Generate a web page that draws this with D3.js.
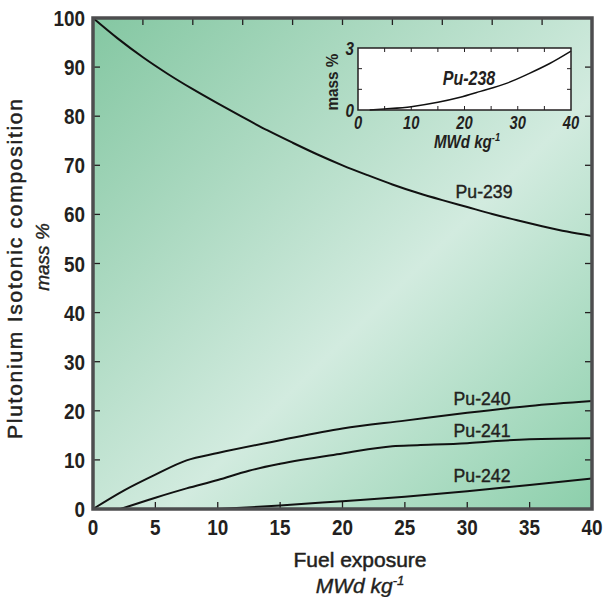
<!DOCTYPE html>
<html>
<head>
<meta charset="utf-8">
<script src="https://cdn.jsdelivr.net/npm/d3@7"></script>
<style>
  body { margin: 0; background: #fff; }
  text { font-family: "Liberation Sans", Arial, sans-serif; fill: #231f20; }
</style>
</head>
<body>
<svg id="chart" width="607" height="597"></svg>
<script>
// ---- data ----
var xTicks = [0, 5, 10, 15, 20, 25, 30, 35, 40];
var yTicks = [0, 10, 20, 30, 40, 50, 60, 70, 80, 90, 100];

var pu239 = [[0,100],[2,95.8],[4,92],[6,88.6],[8,85.5],[10,82.6],[12,79.8],[14,77.1],[16,74.6],[18,72.2],
             [20,70],[22,68],[24,66.1],[26,64.4],[28,62.9],[30,61.5],[32,60.1],[34,58.8],[36,57.6],[38,56.5],[40,55.6]];
var pu240 = [[0,0],[2.5,3.8],[5,7],[7.5,9.9],[10,11.4],[15,14],[20,16.4],[25,18],[30,19.6],[35,21],[40,22]];
var pu241 = [[2.2,0],[5,2.3],[7.5,4.2],[10,5.9],[12.5,7.8],[15,9.2],[20,11.3],[24,12.8],[26,13],[30,13.4],[32,13.8],[35,14.2],[40,14.4]];
var pu242 = [[10,0],[15,0.7],[20,1.6],[25,2.5],[30,3.6],[35,4.9],[40,6.2]];
var pu238 = [[2.2,0],[5,0.05],[10,0.16],[15,0.37],[19,0.6],[23,0.9],[28,1.3],[32,1.75],[36,2.25],[40,2.85]];

var insetXTicks = [0, 10, 20, 30, 40];
var insetYTicks = [0, 3];

var labels = [
    { name: "Pu-239", x: 484, y: 198 },
    { name: "Pu-240", x: 482, y: 405 },
    { name: "Pu-241", x: 482, y: 437 },
    { name: "Pu-242", x: 482, y: 482 }
];

var svg = d3.select("#chart");

var x = d3.scaleLinear().domain([0, 40]).range([93, 592]);
var y = d3.scaleLinear().domain([0, 100]).range([509, 18]);

// text helper: condensed look by squeezing horizontally
function txt(parent, px, py, str, o) {
    o = o || {};
    var t = parent.append("text")
        .attr("transform", "translate(" + px + "," + py + ")" + (o.rot ? " rotate(" + o.rot + ")" : "") +
            " scale(" + (o.sx || 1) + ",1)")
        .attr("text-anchor", o.anchor || "middle")
        .style("font-size", (o.size || 20) + "px")
        .style("font-weight", o.bold ? "bold" : "normal")
        .style("font-style", o.italic ? "italic" : "normal");
    if (o.stroke) t.style("stroke", "#231f20").style("stroke-width", o.stroke);
    if (o.len) t.attr("textLength", o.len).attr("lengthAdjust", "spacing");
    if (o.sup) {
        t.append("tspan").text(str);
        t.append("tspan").attr("dy", -o.size * 0.38).style("font-size", (o.size * 0.62) + "px").text(o.sup);
    } else {
        t.text(str);
    }
    return t;
}

// background gradient
var defs = svg.append("defs");
var grad = defs.append("linearGradient").attr("id", "bg")
    .attr("x1", 0).attr("y1", 0).attr("x2", 1).attr("y2", 1);
grad.append("stop").attr("offset", "0%").attr("stop-color", "#84c7a2");
grad.append("stop").attr("offset", "58%").attr("stop-color", "#d2ebdf");
grad.append("stop").attr("offset", "100%").attr("stop-color", "#8ccfab");

svg.append("rect")
    .attr("x", x(0)).attr("y", y(100))
    .attr("width", x(40) - x(0)).attr("height", y(0) - y(100))
    .style("fill", "url(#bg)");

// inward ticks on all four sides
var tickLen = 7;
var g = svg.append("g").style("stroke", "#231f20").style("stroke-width", 1.3);
xTicks.slice(1, -1).forEach(function (t) {
    g.append("line").attr("x1", x(t)).attr("x2", x(t)).attr("y1", y(0)).attr("y2", y(0) - tickLen);
});
d3.range(4, 40, 4).forEach(function (t) {
    g.append("line").attr("x1", x(t)).attr("x2", x(t)).attr("y1", y(100)).attr("y2", y(100) + tickLen);
});
yTicks.slice(1, -1).forEach(function (t) {
    g.append("line").attr("x1", x(0)).attr("x2", x(0) + tickLen).attr("y1", y(t)).attr("y2", y(t));
    g.append("line").attr("x1", x(40)).attr("x2", x(40) - tickLen).attr("y1", y(t)).attr("y2", y(t));
});

// curves
var line = d3.line().x(function (d) { return x(d[0]); }).y(function (d) { return y(d[1]); })
    .curve(d3.curveMonotoneX);
[pu239, pu240, pu241, pu242].forEach(function (s) {
    svg.append("path").datum(s).attr("d", line)
        .style("fill", "none").style("stroke", "#111").style("stroke-width", 2);
});

labels.forEach(function (l) {
    txt(svg, l.x, l.y, l.name, { size: 19, sx: 0.93, stroke: 0.45 });
});

// frame
svg.append("rect")
    .attr("x", x(0)).attr("y", y(100))
    .attr("width", x(40) - x(0)).attr("height", y(0) - y(100))
    .style("fill", "none").style("stroke", "#4d4d4f").style("stroke-width", 3.5);

// tick labels
yTicks.forEach(function (d) {
    txt(svg, 85, y(d) + 8, d, { size: 22, bold: true, sx: 0.86, anchor: "end" });
});
xTicks.forEach(function (d) {
    txt(svg, x(d), 535, d, { size: 22, bold: true, sx: 0.86 });
});

// axis titles
txt(svg, 22, 269, "Plutonium Isotonic composition", { size: 21, rot: -90, len: 340, stroke: 0.5 });
txt(svg, 49, 257, "mass %", { size: 19, rot: -90, italic: true, stroke: 0.4 });
txt(svg, 360, 567, "Fuel exposure", { size: 21, stroke: 0.5 });
txt(svg, 360, 593, "MWd kg", { size: 21, italic: true, sup: "-1", stroke: 0.4 });

// ---- inset ----
var ix = d3.scaleLinear().domain([0, 40]).range([358, 571]);
var iy = d3.scaleLinear().domain([0, 3]).range([110, 48]);

svg.append("rect").attr("x", ix(0)).attr("y", iy(3))
    .attr("width", ix(40) - ix(0)).attr("height", iy(0) - iy(3))
    .style("fill", "#fff");

var gi = svg.append("g").style("stroke", "#231f20").style("stroke-width", 1);
d3.range(5, 40, 5).forEach(function (t) {
    gi.append("line").attr("x1", ix(t)).attr("x2", ix(t)).attr("y1", iy(0)).attr("y2", iy(0) - 4);
    gi.append("line").attr("x1", ix(t)).attr("x2", ix(t)).attr("y1", iy(3)).attr("y2", iy(3) + 4);
});
[1, 2].forEach(function (t) {
    gi.append("line").attr("x1", ix(0)).attr("x2", ix(0) + 4).attr("y1", iy(t)).attr("y2", iy(t));
    gi.append("line").attr("x1", ix(40)).attr("x2", ix(40) - 4).attr("y1", iy(t)).attr("y2", iy(t));
});

var iline = d3.line().x(function (d) { return ix(d[0]); }).y(function (d) { return iy(d[1]); })
    .curve(d3.curveMonotoneX);
svg.append("path").datum(pu238).attr("d", iline)
    .style("fill", "none").style("stroke", "#111").style("stroke-width", 1.5);

svg.append("rect").attr("x", ix(0)).attr("y", iy(3))
    .attr("width", ix(40) - ix(0)).attr("height", iy(0) - iy(3))
    .style("fill", "none").style("stroke", "#231f20").style("stroke-width", 1.5);

insetYTicks.forEach(function (d) {
    txt(svg, 354, iy(d) + 7, d, { size: 19, bold: true, italic: true, sx: 0.8, anchor: "end" });
});
insetXTicks.forEach(function (d) {
    txt(svg, ix(d), 129, d, { size: 18, bold: true, italic: true, sx: 0.82 });
});

txt(svg, 338, 82, "mass %", { size: 17, bold: true, rot: -90, sx: 0.9 });
txt(svg, 469, 85, "Pu-238", { size: 20, bold: true, italic: true, sx: 0.8 });
txt(svg, 467, 148, "MWd kg", { size: 18, bold: true, italic: true, sx: 0.84, sup: "-1" });
</script>
</body>
</html>
